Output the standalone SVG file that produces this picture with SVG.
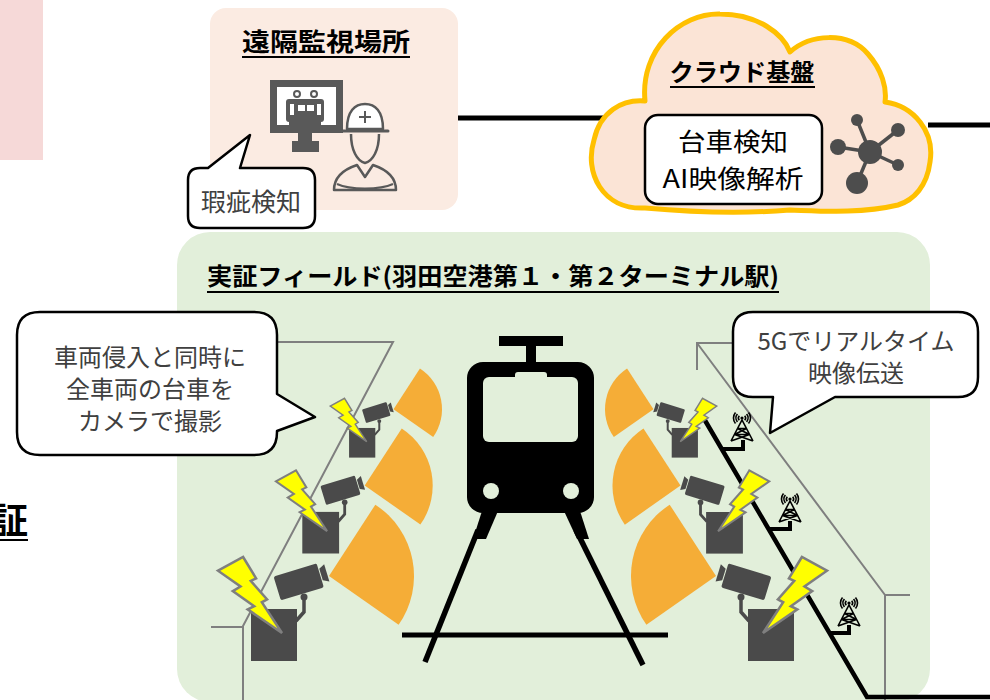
<svg xmlns="http://www.w3.org/2000/svg" xmlns:xlink="http://www.w3.org/1999/xlink" width="990" height="700" viewBox="0 0 990 700">
  <style>
    .t { font-family: 'Noto Sans CJK JP', 'Noto Sans CJK SC', sans-serif; }
    .ttl { font-weight: 700; fill: #000; }
    .call { fill: #404040; font-size: 24px; }
    .gl { stroke: #7f7f7f; stroke-width: 2; fill: none; }
    .dk { fill: #4a4a4a; }
    .icon { fill: #595959; }
    .fan { fill: #f5ad37; }
    .bolt { fill: #ffff00; stroke: #7f7f7f; stroke-width: 2.5; stroke-linejoin: miter; }
    .bubble { fill: #fff; stroke: #000; stroke-width: 2.5; stroke-linejoin: round; }
    .uline { stroke: #000; stroke-width: 2; }
    .wire { stroke: #000; stroke-width: 5; fill: none; }
  </style>
  <defs>
    <!-- camera unit facing right: view cone, pole box, camera, mount and lightning -->
    <g id="camUnit">
      <path class="fan" d="M29,-5 L75.3,-76.3 A85,85 0 0 1 98.6,43.8 Z"/>
      <rect class="dk" x="-49" y="28" width="46" height="52"/>
      <circle class="dk" cx="4" cy="16" r="3.5"/>
      <polyline points="4,16 4,31 -4,40" fill="none" stroke="#4a4a4a" stroke-width="3.5"/>
      <g transform="rotate(-17)">
        <rect class="dk" x="-24" y="-12" width="45" height="25" rx="2"/>
        <path class="dk" d="M22,-6 L28,-9 L28,9 L22,6 Z"/>
      </g>
      <polygon class="bolt" points="-56.9,-24 -43.9,-2.6 -49.2,-0.1 -32.9,18.3 -38.2,21.3 -18,52 -52.3,28.4 -45.8,25.2 -67.2,10.1 -59.5,5.5 -82,-10.3"/>
    </g>
    <!-- radio tower, origin at base centre -->
    <g id="tower" fill="none" stroke="#000" stroke-width="1.6">
      <path d="M-11,0 L0,-21 L11,0 M-4.5,-12.5 H4.5 M-7.5,-6.5 H7.5 M-4.5,-12.5 L7.5,-6.5 M4.5,-12.5 L-7.5,-6.5 M-7.5,-6.5 L11,0 M7.5,-6.5 L-11,0"/>
      <circle cx="0" cy="-23" r="1.6" fill="#000" stroke="none"/>
      <path d="M-2.7,-25.3 A3.5,3.5 0 0 0 -2.7,-20.7 M2.7,-25.3 A3.5,3.5 0 0 1 2.7,-20.7 M-4.6,-26.9 A6,6 0 0 0 -4.6,-19.1 M4.6,-26.9 A6,6 0 0 1 4.6,-19.1 M-6.5,-28.5 A8.5,8.5 0 0 0 -6.5,-17.5 M6.5,-28.5 A8.5,8.5 0 0 1 6.5,-17.5"/>
    </g>
  </defs>

  <rect width="990" height="700" fill="#fff"/>

  <!-- side band -->
  <rect id="side-band" x="0" y="0" width="43" height="160" fill="#f6d9d8"/>

  <!-- heading fragment at left edge -->
  <g id="left-heading">
    <text class="t ttl" x="28" y="534" font-size="36" text-anchor="end">証</text>
    <line class="uline" x1="0" y1="540" x2="28" y2="540" stroke-width="2.5"/>
  </g>

  <!-- links between sites -->
  <g id="connectors">
    <line class="wire" x1="456" y1="118" x2="603" y2="118"/>
    <line class="wire" x1="928" y1="125" x2="990" y2="125"/>
  </g>

  <!-- remote monitoring site -->
  <g id="remote-site">
    <rect x="210" y="8" width="248" height="202" rx="16" fill="#fbebe2"/>
    <text class="t ttl" x="326" y="51" font-size="25" text-anchor="middle" textLength="168" lengthAdjust="spacingAndGlyphs">遠隔監視場所</text>
    <line class="uline" x1="242" y1="57" x2="410" y2="57"/>
    <!-- monitor -->
    <rect class="icon" x="270" y="80" width="73" height="53"/>
    <rect x="277" y="87" width="59" height="38" fill="#fff"/>
    <circle cx="297" cy="94" r="3" fill="none" stroke="#595959" stroke-width="2"/>
    <circle cx="314" cy="94" r="3" fill="none" stroke="#595959" stroke-width="2"/>
    <rect class="icon" x="286" y="99" width="38" height="23" rx="3"/>
    <rect x="290" y="104" width="4" height="11" fill="#fff"/>
    <rect x="298" y="105" width="7" height="6" fill="#fff"/>
    <rect x="307" y="105" width="7" height="6" fill="#fff"/>
    <rect x="317" y="104" width="4" height="11" fill="#fff"/>
    <rect class="icon" x="289" y="121" width="32" height="4"/>
    <rect class="icon" x="298" y="133" width="14" height="8"/>
    <rect class="icon" x="292" y="141" width="27" height="11"/>
    <!-- worker -->
    <g fill="none" stroke="#595959" stroke-width="2.5" stroke-linejoin="round">
      <path d="M347,129 C347,111 355,104 365,104 C375,104 383,111 383,129 Z" fill="#fff"/>
      <line x1="342" y1="131" x2="388" y2="131" stroke-width="3" stroke-linecap="round"/>
      <path d="M365,111 V123 M359,117 H371" stroke-width="2"/>
      <path d="M351,134 C351,150 357,161 365,163 C373,161 379,150 379,134"/>
      <path d="M334,190 C334,178 342,170 357,165 L365,177 L373,165 C388,170 396,178 396,190 Z"/>
      <path d="M337,184 C350,190 380,190 393,184" stroke-width="2"/>
    </g>
  </g>

  <!-- defect detection bubble -->
  <g id="defect-callout">
    <path class="bubble" d="M200,168 H208 L250,135 L240,168 H303 Q315,168 315,180 V216 Q315,228 303,228 H200 Q188,228 188,216 V180 Q188,168 200,168 Z"/>
    <text class="t" x="251" y="211" font-size="25" fill="#404040" text-anchor="middle">瑕疵検知</text>
  </g>

  <!-- cloud platform -->
  <g id="cloud">
    <path d="M645,208 C602,210 584,172 594,140 C600,112 622,99 645,101 C640,50 680,13 720,14 C758,14 783,34 790,52 C810,34 848,31 868,54 C882,70 887,88 885,102 C914,106 935,132 930,162 C927,186 914,200 898,205 C860,214 820,211 790,210 C740,214 690,212 645,208 Z" fill="#fbe4d6" stroke="#ffc000" stroke-width="5" stroke-linejoin="round"/>
    <text class="t ttl" x="742" y="81" font-size="24" text-anchor="middle" textLength="145" lengthAdjust="spacingAndGlyphs">クラウド基盤</text>
    <line class="uline" x1="670" y1="87" x2="815" y2="87"/>
    <rect x="645" y="115" width="177" height="89" rx="13" fill="#fff" stroke="#000" stroke-width="2.5"/>
    <text class="t" x="733" y="151" font-size="25" text-anchor="middle" textLength="110" lengthAdjust="spacingAndGlyphs">台車検知</text>
    <text class="t" x="733" y="188" font-size="25" text-anchor="middle" textLength="141" lengthAdjust="spacingAndGlyphs">AI映像解析</text>
    <!-- network hub icon -->
    <g fill="#4d4d4d" stroke="#4d4d4d" stroke-width="3.5">
      <line x1="870" y1="152" x2="857" y2="120"/>
      <line x1="870" y1="152" x2="898" y2="130"/>
      <line x1="870" y1="152" x2="838" y2="147"/>
      <line x1="870" y1="152" x2="898" y2="165"/>
      <line x1="870" y1="152" x2="857" y2="183"/>
      <circle cx="870" cy="152" r="12" stroke="none"/>
      <circle cx="857" cy="120" r="6" stroke="none"/>
      <circle cx="898" cy="130" r="7" stroke="none"/>
      <circle cx="838" cy="147" r="8" stroke="none"/>
      <circle cx="898" cy="165" r="6" stroke="none"/>
      <circle cx="857" cy="183" r="11" stroke="none"/>
    </g>
  </g>

  <!-- trial field -->
  <g id="field">
    <rect x="177" y="232" width="753" height="470" rx="33" fill="#e2efda"/>
    <text class="t ttl" x="493" y="285" font-size="24" text-anchor="middle" textLength="572" lengthAdjust="spacingAndGlyphs">実証フィールド(羽田空港第１・第２ターミナル駅)</text>
    <line class="uline" x1="207" y1="292" x2="779" y2="292"/>
  </g>

  <!-- platform outlines -->
  <g id="platforms">
    <polyline class="gl" points="277,342 393,342 243,626 243,700"/>
    <line class="gl" x1="211" y1="627" x2="243" y2="627"/>
    <polyline class="gl" points="697,370 697,343 735,343"/>
    <polyline class="gl" points="697,343 885,595 885,700"/>
    <line class="gl" x1="885" y1="595" x2="910" y2="595"/>
  </g>

  <!-- 5G backhaul cable and base stations -->
  <g id="network">
    <polyline points="703,417 867,697 990,697" fill="none" stroke="#000" stroke-width="4.5"/>
    <polyline points="722,449 743,449 743,440" fill="none" stroke="#000" stroke-width="4"/>
    <polyline points="769,529 790,529 790,521" fill="none" stroke="#000" stroke-width="4"/>
    <polyline points="829,633 849,633 849,625" fill="none" stroke="#000" stroke-width="4"/>
    <use xlink:href="#tower" href="#tower" transform="translate(742,441)"/>
    <use xlink:href="#tower" href="#tower" transform="translate(790,522)"/>
    <use xlink:href="#tower" href="#tower" transform="translate(849,626)"/>
  </g>

  <!-- train and track -->
  <g id="train">
    <rect x="499" y="336" width="64" height="10" fill="#000"/>
    <rect x="526" y="344" width="10" height="20" fill="#000"/>
    <rect x="467" y="362" width="127" height="151" rx="16" fill="#000"/>
    <rect x="483" y="377" width="95" height="65" rx="6" fill="#e2efda"/>
    <rect x="515" y="372" width="32" height="10" rx="3" fill="#e2efda"/>
    <circle cx="491" cy="491" r="8" fill="#e2efda"/>
    <circle cx="571" cy="491" r="8" fill="#e2efda"/>
    <polygon points="482,511 498,511 486,539 473,539" fill="#000"/>
    <polygon points="564,511 580,511 589,539 577,539" fill="#000"/>
    <line x1="478" y1="530" x2="425" y2="662" stroke="#000" stroke-width="5.5"/>
    <line x1="576" y1="530" x2="643" y2="665" stroke="#000" stroke-width="5.5"/>
    <line x1="402" y1="635" x2="668" y2="635" stroke="#000" stroke-width="5"/>
  </g>

  <!-- cameras, left side -->
  <use id="cam-l1" xlink:href="#camUnit" href="#camUnit" transform="translate(377,412) scale(0.57)"/>
  <use id="cam-l2" xlink:href="#camUnit" href="#camUnit" transform="translate(341.5,489.5) scale(0.8)"/>
  <use id="cam-l3" xlink:href="#camUnit" href="#camUnit" transform="translate(300,581)"/>
  <!-- cameras, right side -->
  <use id="cam-r1" xlink:href="#camUnit" href="#camUnit" transform="translate(670,412) scale(-0.57,0.57)"/>
  <use id="cam-r2" xlink:href="#camUnit" href="#camUnit" transform="translate(703.7,489.6) scale(-0.8,0.8)"/>
  <use id="cam-r3" xlink:href="#camUnit" href="#camUnit" transform="translate(745,581) scale(-1,1)"/>

  <!-- capture bubble -->
  <g id="capture-callout">
    <path class="bubble" d="M40,312 H254 Q277,312 277,335 V394 L315,417 L277,431 V432 Q277,455 254,455 H40 Q17,455 17,432 V335 Q17,312 40,312 Z"/>
    <text class="t call" x="150" y="366" text-anchor="middle">車両侵入と同時に</text>
    <text class="t call" x="150" y="398" text-anchor="middle">全車両の台車を</text>
    <text class="t call" x="150" y="430" text-anchor="middle">カメラで撮影</text>
  </g>

  <!-- 5G bubble -->
  <g id="5g-callout">
    <path class="bubble" d="M753,312 H958 Q978,312 978,332 V377 Q978,397 958,397 H835 L770,433 L773,397 H753 Q733,397 733,377 V332 Q733,312 753,312 Z"/>
    <text class="t call" x="856" y="350" text-anchor="middle">5Gでリアルタイム</text>
    <text class="t call" x="856" y="382" text-anchor="middle">映像伝送</text>
  </g>
</svg>
